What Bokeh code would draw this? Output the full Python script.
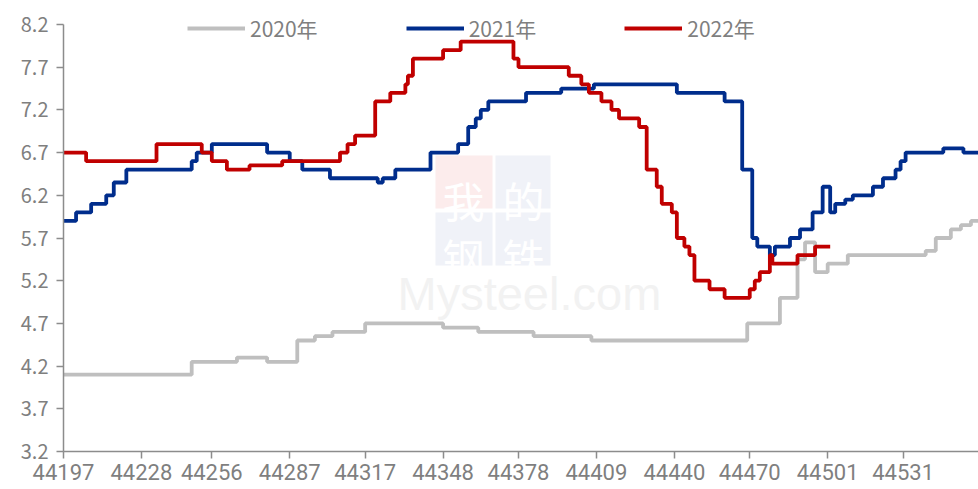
from bokeh.plotting import figure
from bokeh.models import (Range1d, FixedTicker, Legend, LegendItem, Label,
                          BoxAnnotation, NumeralTickFormatter)
from bokeh.embed import file_html
from bokeh.resources import INLINE

# ---- data (Excel serial dates, values) ----
dates_2020 = [44197, 44248, 44266, 44278, 44290, 44297, 44304, 44317, 44348, 44362,
              44384, 44407, 44469, 44482, 44489, 44492, 44496, 44501, 44509, 44540,
              44544, 44550, 44554, 44558, 44561]
vals_2020 = [4.1, 4.25, 4.3, 4.25, 4.5, 4.55, 4.6, 4.7, 4.65, 4.6,
             4.55, 4.5, 4.7, 5.0, 5.45, 5.65, 5.3, 5.4, 5.5, 5.55,
             5.7, 5.8, 5.85, 5.9, 5.9]

dates_2021 = [44197, 44202, 44208, 44214, 44217, 44222, 44248, 44250, 44256, 44278,
              44287, 44292, 44303, 44322, 44324, 44329, 44343, 44354, 44358, 44361,
              44363, 44366, 44381, 44395, 44408, 44441, 44460, 44467, 44471, 44473,
              44478, 44480, 44486, 44490, 44495, 44499, 44502, 44504, 44508, 44511,
              44519, 44523, 44528, 44530, 44532, 44547, 44555, 44561]
vals_2021 = [5.9, 6.0, 6.1, 6.2, 6.35, 6.5, 6.6, 6.7, 6.8, 6.7,
             6.6, 6.5, 6.4, 6.35, 6.4, 6.5, 6.7, 6.8, 7.0, 7.1,
             7.2, 7.3, 7.4, 7.45, 7.5, 7.4, 7.3, 6.5, 5.7, 5.6,
             5.5, 5.6, 5.7, 5.8, 6.0, 6.3, 6.0, 6.1, 6.15, 6.2,
             6.3, 6.4, 6.5, 6.6, 6.7, 6.75, 6.7, 6.7]

dates_2022 = [44197, 44206, 44234, 44252, 44256, 44262, 44271, 44284, 44307, 44310,
              44313, 44321, 44327, 44333, 44334, 44336, 44348, 44355, 44376, 44378,
              44398, 44403, 44406, 44411, 44415, 44418, 44426, 44429, 44433, 44435,
              44439, 44441, 44444, 44446, 44448, 44454, 44460, 44470, 44472, 44474,
              44478, 44479, 44489, 44496, 44502]
vals_2022 = [6.7, 6.6, 6.8, 6.7, 6.6, 6.5, 6.55, 6.6, 6.7, 6.8,
             6.9, 7.3, 7.4, 7.5, 7.6, 7.8, 7.9, 8.0, 7.8, 7.7,
             7.6, 7.5, 7.4, 7.3, 7.2, 7.1, 7.0, 6.5, 6.3, 6.1,
             6.0, 5.7, 5.6, 5.5, 5.2, 5.1, 5.0, 5.1, 5.2, 5.3,
             5.5, 5.4, 5.5, 5.6, 5.6]

series_names = ["2020年", "2021年", "2022年"]
x_ticks = [44197, 44228, 44256, 44287, 44317, 44348, 44378, 44409, 44440, 44470, 44501, 44531]
y_ticks = [3.2, 3.7, 4.2, 4.7, 5.2, 5.7, 6.2, 6.7, 7.2, 7.7, 8.2]

FONT = "Noto Sans CJK SC"
TXT = "#7f7f7f"
AX = "#8c8c8c"

p = figure(width=978, height=489, output_backend="svg", toolbar_location=None,
           x_range=Range1d(44197, 44561), y_range=Range1d(3.2, 8.411),
           min_border_left=63, min_border_right=0, min_border_top=6, min_border_bottom=38)
p.outline_line_color = None
p.grid.visible = False
p.background_fill_color = "white"

# faint watermark
for (l, r, b, t, c) in [(372, 429, 243, 296, "#fcecec"), (432, 487, 243, 296, "#f0f2f8"),
                        (372, 429, 186, 239, "#f0f2f8"), (432, 487, 186, 239, "#f0f2f8")]:
    p.add_layout(BoxAnnotation(left=l, right=r, bottom=b, top=t,
                               left_units="screen", right_units="screen",
                               bottom_units="screen", top_units="screen",
                               fill_color=c, fill_alpha=1.0, line_alpha=0, level="underlay"))
for (tx, xx, yy) in [("我", 400, 252), ("的", 460, 252), ("钢", 400, 195), ("铁", 460, 195)]:
    p.add_layout(Label(x=xx, y=yy, x_units="screen", y_units="screen", text=tx,
                       text_font=FONT, text_font_size="42px", text_color="white",
                       text_align="center", text_baseline="alphabetic", level="underlay"))
p.add_layout(Label(x=334, y=158, x_units="screen", y_units="screen", text="Mysteel.com",
                   text_font="Liberation Sans", text_font_size="47px", text_color="#f2f2f2",
                   text_baseline="alphabetic", level="underlay"))

r20 = p.step(dates_2020, vals_2020, mode="after", line_color="#bfbfbf", line_width=3.8)
r21 = p.step(dates_2021, vals_2021, mode="after", line_color="#002d8c", line_width=3.8)
r22 = p.step(dates_2022, vals_2022, mode="after", line_color="#c00000", line_width=3.8)

for ax in (p.xaxis[0], p.yaxis[0]):
    ax.axis_line_color = AX
    ax.axis_line_width = 1.5
    ax.major_tick_line_color = AX
    ax.major_tick_line_width = 1.5
    ax.major_tick_in = 0
    ax.major_tick_out = 7
    ax.minor_tick_line_color = None
    ax.major_label_text_color = TXT

p.xaxis.ticker = FixedTicker(ticks=x_ticks)
p.yaxis.ticker = FixedTicker(ticks=y_ticks)
p.yaxis.bounds = (3.2, 8.2)
p.yaxis.formatter = NumeralTickFormatter(format="0.0")
p.yaxis.major_label_text_font = FONT
p.yaxis.major_label_text_font_size = "20px"
p.yaxis.major_label_standoff = 8
p.xaxis.major_label_text_font = "Roboto"
p.xaxis.major_label_text_font_size = "22px"
p.xaxis.major_label_standoff = 5

legend = Legend(items=[LegendItem(label=series_names[0], renderers=[r20]),
                       LegendItem(label=series_names[1], renderers=[r21]),
                       LegendItem(label=series_names[2], renderers=[r22])],
                orientation="horizontal", location=(124, 408), padding=0, margin=0,
                spacing=88, glyph_width=58, glyph_height=20, label_standoff=5,
                label_text_font=FONT, label_text_font_size="21px", label_text_color=TXT,
                background_fill_alpha=0, border_line_alpha=0)
p.add_layout(legend)

open("out.html", "w").write(file_html(p, INLINE))
